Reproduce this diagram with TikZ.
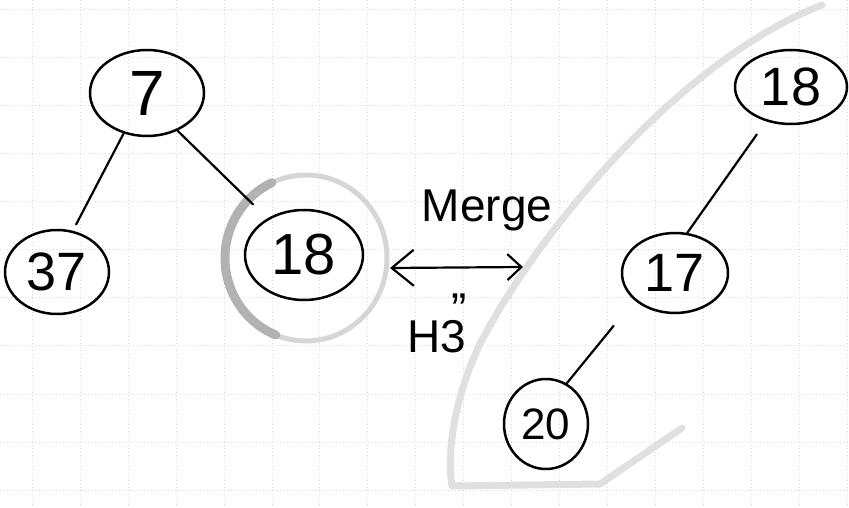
\documentclass[tikz,border=0pt]{standalone}
\usepackage{fontspec}
\setmainfont{Liberation Sans}
\usetikzlibrary{shapes.geometric,arrows.meta}
\begin{document}
\begin{tikzpicture}[x=1pt,y=-1pt,
  gridline/.style={black!15, line width=0.5pt, dash pattern=on 1pt off 2.5pt},
  keynode/.style={ellipse, draw, line width=2.5pt, inner sep=0pt},
  treeedge/.style={line width=2.2pt, line cap=round},
  pencil/.style={black!12, line width=7pt, line cap=round, line join=round},
  halo/.style={black!16, line width=5pt},
  halodark/.style={black!30, line width=9pt, line cap=round},
  mergearrow/.style={line width=2.2pt,
    arrows={Straight Barb[length=22pt, width=36pt]-Straight Barb[length=14pt, width=26pt]}},
  handtext/.style={font=\fontsize{#1}{#1}\selectfont}]

\useasboundingbox (0,0) rectangle (849,508);
\fill[white] (0,0) rectangle (849,508);

% squared paper
\foreach \i in {0,...,17} \draw[gridline] ({32+47.95*\i},0) -- ({32+47.95*\i},508);
\foreach \j in {0,...,10} \draw[gridline] (0,{9+48.1*\j}) -- (849,{9+48.1*\j});

% pencil shading
\draw[pencil] (822,5) .. controls (680,60) and (540,230) .. (482,340)
  .. controls (456,392) and (446,450) .. (452,486) -- (600,484) -- (682,428);
\draw[halo] (306,258) ellipse [x radius=81, y radius=83];
\draw[halodark] (306,258) ++(112:81 and 83) arc[start angle=112, end angle=245, x radius=81, y radius=83];

% left heap
\node[keynode, minimum width=114pt, minimum height=86pt, handtext=64] (k7) at (147,93) {7};
\node[keynode, minimum width=104pt, minimum height=84pt, handtext=54] (k37) at (57,272) {37};
\node[keynode, minimum width=118pt, minimum height=90pt, handtext=58] (k18a) at (304,255) {18};

% right heap
\node[keynode, minimum width=112pt, minimum height=74pt, handtext=54] (k18b) at (791,87) {18};
\node[keynode, minimum width=106pt, minimum height=80pt, handtext=54] (k17) at (675,273) {17};
\node[keynode, minimum width=84pt, minimum height=90pt, handtext=44] (k20) at (546,424) {20};

% edges
\draw[treeedge, shorten >=7pt] (k7.240) -- (k37.69);
\draw[treeedge, shorten >=20pt] (k7.309) -- (k18a.135);
\draw[treeedge, shorten <=16pt] (k18b.234) -- (k17.73);
\draw[treeedge, shorten <=33pt] (k17.214) -- (k20.63);

% merge arrow and labels
\coordinate (mergeL) at (390,268);
\coordinate (mergeR) at (523,267);
\draw[mergearrow] (mergeL) -- (mergeR);
\node[handtext=46, anchor=base] (mergelabel) at (487,222) {Merge};
\node[handtext=46, anchor=base] (hlabel) at (437,352) {H3\llap{\raisebox{0.58em}{''}}};
\end{tikzpicture}
\end{document}
